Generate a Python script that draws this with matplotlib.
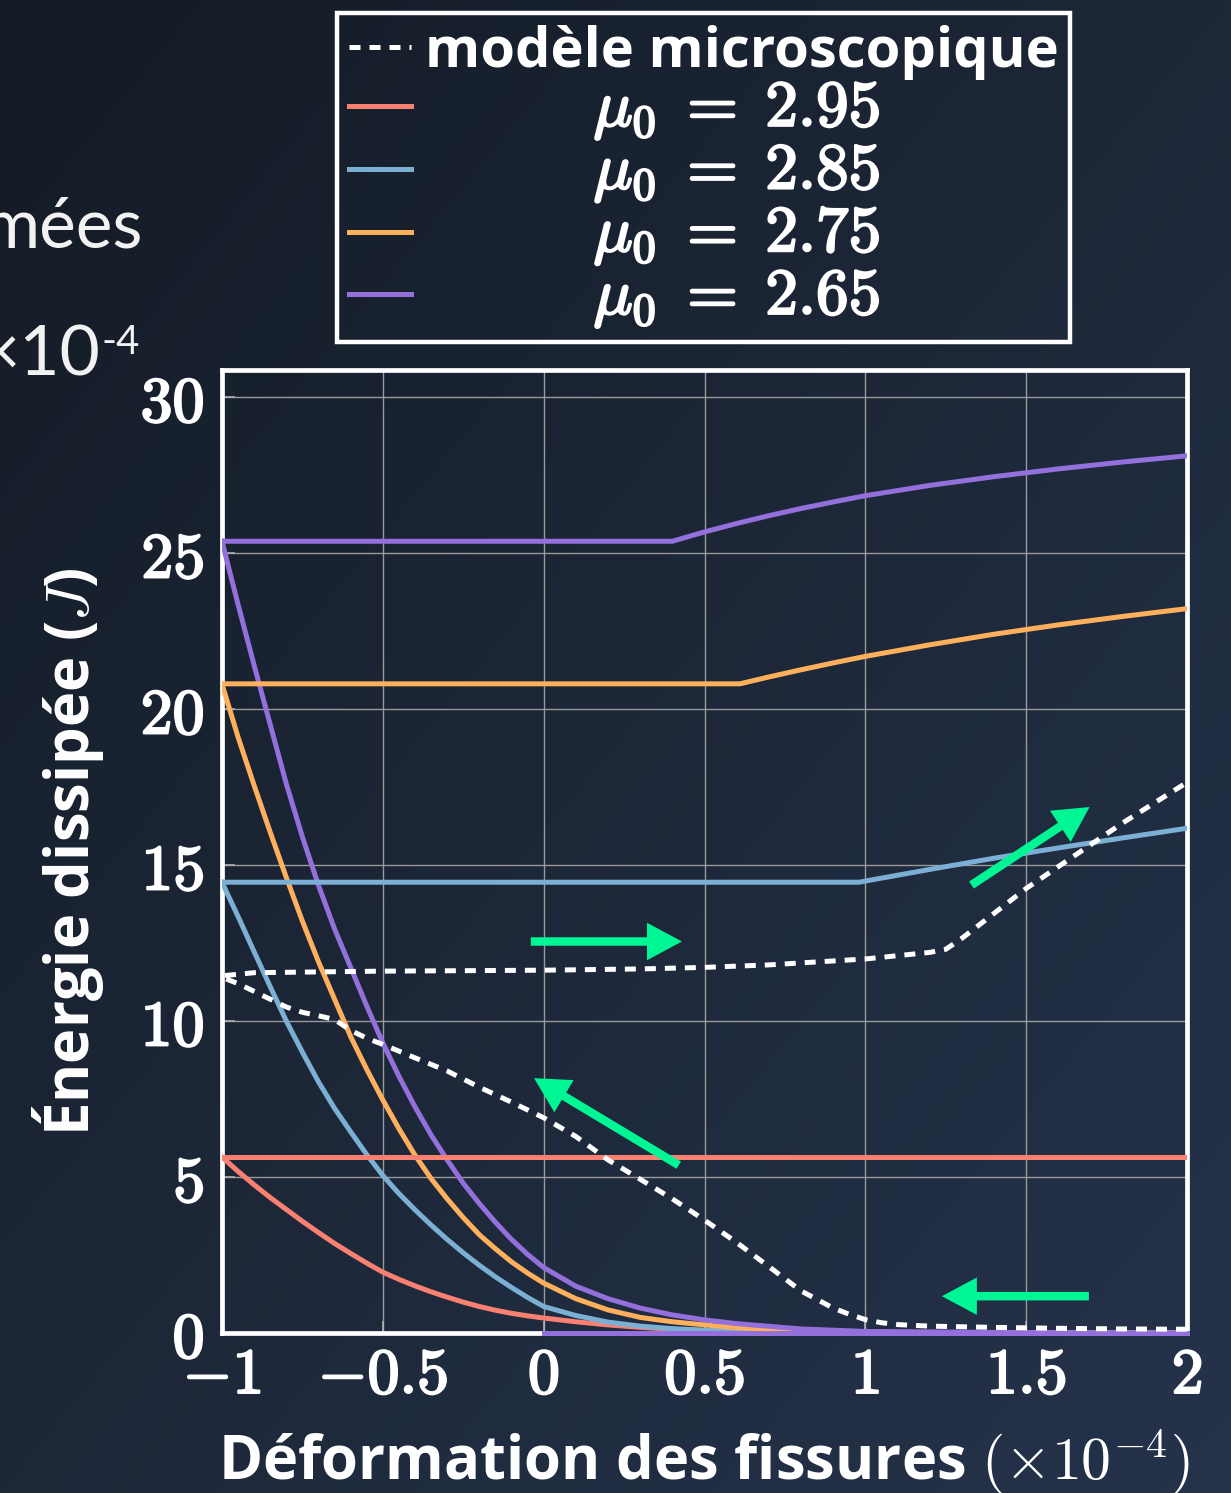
import numpy as np
import matplotlib.pyplot as plt
from matplotlib import patheffects as pe
from matplotlib.lines import Line2D

plt.rcParams['mathtext.fontset'] = 'cm'
plt.rcParams['font.family'] = ['Open Sans', 'DejaVu Sans']

# branche de décharge (x en 1e-4)
x_low = [-1, -0.95, -0.9, -0.85, -0.8, -0.75, -0.7, -0.65, -0.6, -0.55, -0.5,
         -0.45, -0.4, -0.35, -0.3, -0.25, -0.2, -0.15, -0.1, -0.05, 0,
         0.1, 0.2, 0.3, 0.4, 0.5, 0.6, 0.8, 1.0, 1.5, 2.0]
red_low = [5.64, 5.18, 4.75, 4.34, 3.96, 3.58, 3.22, 2.87, 2.55, 2.24, 1.95,
           1.72, 1.51, 1.32, 1.15, 0.99, 0.85, 0.73, 0.63, 0.55, 0.48,
           0.36, 0.26, 0.18, 0.12, 0.08, 0.05, 0.02, 0.01, 0.0, 0.0]
blue_low = [14.45, 13.35, 12.22, 11.1, 10.0, 9.0, 8.05, 7.2, 6.45, 5.72, 5.05,
            4.47, 3.95, 3.46, 3.0, 2.57, 2.17, 1.8, 1.46, 1.14, 0.85,
            0.56, 0.35, 0.22, 0.14, 0.09, 0.06, 0.03, 0.01, 0.0, 0.0]
orange_low = [20.8, 19.1, 17.55, 16.05, 14.6, 13.2, 11.9, 10.7, 9.5, 8.45, 7.47,
              6.55, 5.7, 4.95, 4.3, 3.7, 3.15, 2.7, 2.28, 1.92, 1.6,
              1.1, 0.74, 0.5, 0.36, 0.26, 0.17, 0.07, 0.03, 0.0, 0.0]
purple_low = [25.38, 23.35, 21.4, 19.5, 17.6, 15.9, 14.35, 12.95, 11.72, 10.48, 9.3,
              8.23, 7.25, 6.35, 5.55, 4.8, 4.15, 3.55, 3.0, 2.52, 2.1,
              1.5, 1.1, 0.8, 0.58, 0.42, 0.3, 0.13, 0.05, 0.01, 0.0]
purple_zero_x = [0, 2]
purple_zero = [0, 0]

# branche de charge
red_up_x = [-1, 2]
red_up = [5.64, 5.64]
blue_up_x = [-1, 0.98, 1.2, 1.4, 1.6, 1.8, 2.0]
blue_up = [14.45, 14.45, 14.86, 15.22, 15.55, 15.87, 16.18]
orange_up_x = [-1, 0.61, 0.7, 0.8, 0.9, 1.0, 1.2, 1.4, 1.6, 1.8, 2.0]
orange_up = [20.81, 20.81, 21.03, 21.26, 21.48, 21.69, 22.06, 22.4, 22.7, 22.97, 23.22]
purple_up_x = [-1, 0.4, 0.5, 0.6, 0.7, 0.8, 0.9, 1.0, 1.2, 1.4, 1.6, 1.8, 2.0]
purple_up = [25.38, 25.38, 25.68, 25.95, 26.2, 26.43, 26.64, 26.84, 27.17, 27.45, 27.7, 27.92, 28.12]

# modèle microscopique
micro_up_x = [-1, -0.9, -0.5, 0, 0.3, 0.5, 0.7, 1.0, 1.2, 1.25, 1.3, 1.4,
              1.5, 1.6, 1.7, 1.8, 1.9, 2.0]
micro_up = [11.45, 11.55, 11.6, 11.63, 11.67, 11.72, 11.8, 11.99, 12.2, 12.3, 12.65, 13.45,
            14.25, 14.95, 15.65, 16.35, 17.0, 17.65]
micro_down_x = [-1, -0.95, -0.9, -0.85, -0.8, -0.75, -0.7, -0.65, -0.6, -0.55, -0.5,
                -0.4, -0.3, -0.2, -0.1, 0, 0.1, 0.2, 0.3, 0.4, 0.5, 0.6, 0.7, 0.8,
                0.9, 0.95, 1.0, 1.05, 1.1, 1.2, 1.4, 1.6, 1.8, 2.0]
micro_down = [11.4, 11.2, 10.95, 10.7, 10.45, 10.28, 10.17, 10.05, 9.7, 9.45, 9.25,
              8.82, 8.4, 7.88, 7.4, 6.9, 6.3, 5.55, 4.93, 4.3, 3.62, 2.9, 2.13, 1.35,
              0.8, 0.6, 0.43, 0.33, 0.27, 0.22, 0.18, 0.15, 0.13, 0.12]

arrow_tails = [(-0.04, 12.55), (0.42, 5.38), (1.33, 14.36), (1.695, 1.18)]
arrow_heads = [(0.43, 12.55), (-0.03, 8.17), (1.697, 16.86), (1.238, 1.18)]

mu_labels = ['2.95', '2.85', '2.75', '2.65']
x_ticks = [-1, -0.5, 0, 0.5, 1, 1.5, 2]
y_ticks = [0, 5, 10, 15, 20, 25, 30]

red, blue, orange, purple = '#fa8072', '#7bafd4', '#ffb05c', '#9370db'
green = '#00f595'
dash = (0, (2.2, 1.8))
lw = 3.6
bold_fx = [pe.withStroke(linewidth=1.6, foreground='white')]

fig = plt.figure(figsize=(12.31, 14.93), dpi=100)

# fond dégradé
bg = fig.add_axes([0, 0, 1, 1], zorder=-10)
c0 = np.array([20, 27, 37]) / 255
c1 = np.array([37, 51, 75]) / 255
yy, xx = np.mgrid[0:1:300j, 0:1:300j]
t = (xx + yy) / 2
bg.imshow(c0 + t[..., None] * (c1 - c0), aspect='auto', extent=[0, 1, 0, 1])
bg.axis('off')

ax = fig.add_axes([222 / 1231, 1 - 1333 / 1493, 965 / 1231, 963 / 1493])
ax.set_facecolor('none')

for yv, c in zip([red_low, blue_low, orange_low, purple_low], [red, blue, orange, purple]):
    ax.plot(x_low, yv, color=c, lw=lw, zorder=3)
ax.plot(purple_zero_x, purple_zero, color=purple, lw=lw, zorder=4, clip_on=False)
ax.plot(red_up_x, red_up, color=red, lw=lw, zorder=3)
ax.plot(blue_up_x, blue_up, color=blue, lw=lw, zorder=3)
ax.plot(orange_up_x, orange_up, color=orange, lw=lw, zorder=3)
ax.plot(purple_up_x, purple_up, color=purple, lw=lw, zorder=3)

micro_x = micro_down_x[::-1] + micro_up_x
micro_y = micro_down[::-1] + micro_up
ax.plot(micro_x, micro_y, color='white', lw=lw, ls=dash, zorder=4)

for (x0, y0), (x1, y1) in zip(arrow_tails, arrow_heads):
    ax.annotate('', xy=(x1, y1), xytext=(x0, y0), zorder=5,
                arrowprops=dict(arrowstyle='simple,head_length=0.7,head_width=0.75,tail_width=0.17',
                                mutation_scale=36, color=green, lw=0, shrinkA=0, shrinkB=0))

ax.set_xlim(-1, 2)
ax.set_ylim(0, 30.87)
ax.set_xticks(x_ticks, [rf'$\mathbf{{{v:g}}}$' for v in x_ticks])
ax.set_yticks(y_ticks, [rf'$\mathbf{{{v:g}}}$' for v in y_ticks])
ax.tick_params(axis='both', direction='in', length=9, width=1.2, color='#b0b0b0',
               labelsize=46, labelcolor='white')
ax.tick_params(axis='x', pad=8)
ax.tick_params(axis='y', pad=13)
for lab in ax.get_xticklabels() + ax.get_yticklabels():
    lab.set_path_effects(bold_fx)
ax.grid(True, color='#9a9a9a', lw=1.0)
for s in ax.spines.values():
    s.set_color('white')
    s.set_linewidth(3.4)

ax.set_xlabel(r'Déformation des fissures $(\times 10^{-4})$', fontsize=43,
              fontweight='bold', color='white', va='top')
ax.xaxis.set_label_coords(0.5, -0.098)
ax.set_ylabel(r'Énergie dissipée ($J$)', fontsize=43, fontweight='bold', color='white')
ax.yaxis.set_label_coords(-0.12, 0.5)

handles = [Line2D([], [], color='white', lw=lw, ls=dash)]
handles += [Line2D([], [], color=c, lw=lw) for c in [red, blue, orange, purple]]
labels = ['modèle microscopique'] + [r'$\qquad\enspace\;\,\mu_0\;=\;\mathbf{%s}$' % m for m in mu_labels]
leg = fig.legend(handles, labels, loc='upper left', bbox_to_anchor=(337 / 1231, 1 - 13 / 1493),
                 prop={'weight': 'bold', 'size': 40.5}, frameon=True, fancybox=False,
                 edgecolor='white', facecolor='none', framealpha=1, borderpad=0.21,
                 labelspacing=-0.05, handlelength=1.1, handletextpad=0.25, borderaxespad=0,
                 labelcolor='white')
leg.get_frame().set_linewidth(3.2)
for txt in leg.get_texts()[1:]:
    txt.set_fontsize(47)
    txt.set_path_effects(bold_fx)

# morceaux de texte de la diapositive, coupés à gauche
fig.text(143 / 1231, 1 - 247 / 1493, 'mées', ha='right', va='baseline',
         fontsize=50, color='#f2f2f2', family='Lato')
fig.text(100 / 1231, 1 - 375 / 1493, '×10', ha='right', va='baseline',
         fontsize=50, color='#f2f2f2', family='Lato')
fig.text(102 / 1231, 1 - 354 / 1493, '-4', ha='left', va='baseline',
         fontsize=29, color='#f2f2f2', family='Lato')

fig.savefig('out.png', dpi=100)
